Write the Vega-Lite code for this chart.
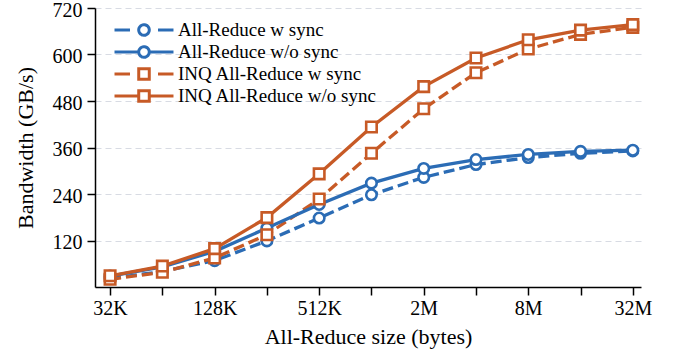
{
  "$schema": "https://vega.github.io/schema/vega-lite/v6.json",
  "width": 546,
  "height": 279,
  "autosize": {"type": "none"},
  "padding": {"left": 95, "top": 8, "right": 36, "bottom": 71},
  "background": "white",
  "config": {
    "view": {"stroke": null},
    "axis": {
      "domainColor": "black", "domainWidth": 1.5,
      "tickColor": "black", "tickWidth": 1.5, "tickSize": 8,
      "labelFont": "Liberation Serif", "labelFontSize": 20, "labelColor": "black",
      "titleFont": "Liberation Serif", "titleFontSize": 22, "titleFontWeight": "normal", "titleColor": "black",
      "gridColor": "#d8dbe3", "gridDash": [6, 4], "gridWidth": 1.2
    }
  },
  "data": {"values": [
    {"series": "All-Reduce w sync", "kb": 32, "bw": 22},
    {"series": "All-Reduce w sync", "kb": 64, "bw": 40},
    {"series": "All-Reduce w sync", "kb": 128, "bw": 68},
    {"series": "All-Reduce w sync", "kb": 256, "bw": 119},
    {"series": "All-Reduce w sync", "kb": 512, "bw": 178},
    {"series": "All-Reduce w sync", "kb": 1024, "bw": 238},
    {"series": "All-Reduce w sync", "kb": 2048, "bw": 283},
    {"series": "All-Reduce w sync", "kb": 4096, "bw": 316},
    {"series": "All-Reduce w sync", "kb": 8192, "bw": 334},
    {"series": "All-Reduce w sync", "kb": 16384, "bw": 345},
    {"series": "All-Reduce w sync", "kb": 32768, "bw": 351},
    {"series": "All-Reduce w/o sync", "kb": 32, "bw": 28},
    {"series": "All-Reduce w/o sync", "kb": 64, "bw": 52},
    {"series": "All-Reduce w/o sync", "kb": 128, "bw": 92},
    {"series": "All-Reduce w/o sync", "kb": 256, "bw": 152},
    {"series": "All-Reduce w/o sync", "kb": 512, "bw": 213},
    {"series": "All-Reduce w/o sync", "kb": 1024, "bw": 268},
    {"series": "All-Reduce w/o sync", "kb": 2048, "bw": 306},
    {"series": "All-Reduce w/o sync", "kb": 4096, "bw": 329},
    {"series": "All-Reduce w/o sync", "kb": 8192, "bw": 342},
    {"series": "All-Reduce w/o sync", "kb": 16384, "bw": 350},
    {"series": "All-Reduce w/o sync", "kb": 32768, "bw": 353},
    {"series": "INQ All-Reduce w sync", "kb": 32, "bw": 20},
    {"series": "INQ All-Reduce w sync", "kb": 64, "bw": 38},
    {"series": "INQ All-Reduce w sync", "kb": 128, "bw": 75},
    {"series": "INQ All-Reduce w sync", "kb": 256, "bw": 135},
    {"series": "INQ All-Reduce w sync", "kb": 512, "bw": 227},
    {"series": "INQ All-Reduce w sync", "kb": 1024, "bw": 345},
    {"series": "INQ All-Reduce w sync", "kb": 2048, "bw": 460},
    {"series": "INQ All-Reduce w sync", "kb": 4096, "bw": 553},
    {"series": "INQ All-Reduce w sync", "kb": 8192, "bw": 614},
    {"series": "INQ All-Reduce w sync", "kb": 16384, "bw": 652},
    {"series": "INQ All-Reduce w sync", "kb": 32768, "bw": 670},
    {"series": "INQ All-Reduce w/o sync", "kb": 32, "bw": 29},
    {"series": "INQ All-Reduce w/o sync", "kb": 64, "bw": 54},
    {"series": "INQ All-Reduce w/o sync", "kb": 128, "bw": 99},
    {"series": "INQ All-Reduce w/o sync", "kb": 256, "bw": 179},
    {"series": "INQ All-Reduce w/o sync", "kb": 512, "bw": 292},
    {"series": "INQ All-Reduce w/o sync", "kb": 1024, "bw": 413},
    {"series": "INQ All-Reduce w/o sync", "kb": 2048, "bw": 517},
    {"series": "INQ All-Reduce w/o sync", "kb": 4096, "bw": 591},
    {"series": "INQ All-Reduce w/o sync", "kb": 8192, "bw": 638},
    {"series": "INQ All-Reduce w/o sync", "kb": 16384, "bw": 663},
    {"series": "INQ All-Reduce w/o sync", "kb": 32768, "bw": 677}
  ]},
  "encoding": {
    "x": {
      "field": "kb", "type": "quantitative",
      "scale": {"type": "log", "base": 2, "domain": [26.2, 36530], "nice": false},
      "axis": {
        "title": "All-Reduce size (bytes)",
        "values": [32, 64, 128, 256, 512, 1024, 2048, 4096, 8192, 16384, 32768],
        "labelExpr": "indexof([32,128,512,2048,8192,32768], datum.value) >= 0 ? (datum.value >= 1024 ? (datum.value/1024) + 'M' : datum.value + 'K') : ''",
        "grid": false, "labelPadding": 3, "titlePadding": 8, "labelFlush": false, "labelOverlap": false
      }
    },
    "y": {
      "field": "bw", "type": "quantitative",
      "scale": {"domain": [0, 720], "nice": false},
      "axis": {
        "title": "Bandwidth (GB/s)",
        "values": [120, 240, 360, 480, 600, 720],
        "grid": true, "labelPadding": 5, "titlePadding": 15, "labelOffset": 2
      }
    },
    "stroke": {
      "field": "series", "type": "nominal",
      "scale": {
        "domain": ["All-Reduce w sync", "All-Reduce w/o sync", "INQ All-Reduce w sync", "INQ All-Reduce w/o sync"],
        "range": ["#2b6cb5", "#2b6cb5", "#c75a26", "#c75a26"]
      },
      "legend": {
        "orient": "none", "legendX": 39, "legendY": 12,
        "title": null,
        "symbolSize": 289, "symbolStrokeWidth": 2.5, "symbolFillColor": "white", "symbolOpacity": 1,
        "labelFont": "Liberation Serif", "labelFontSize": 19, "labelColor": "black", "labelLimit": 400,
        "rowPadding": -3.9, "labelOffset": 24,
        "encode": {
          "symbols": {
            "update": {
              "shape": {"signal": "datum.value === 'All-Reduce w sync' ? 'M-3.47,0H-1.65M1.65,0H3.47M-0.62,0A0.62,0.62,0,1,0,0.62,0A0.62,0.62,0,1,0,-0.62,0Z' : datum.value === 'All-Reduce w/o sync' ? 'M-3.47,0H-0.62M0.62,0H3.47M-0.62,0A0.62,0.62,0,1,0,0.62,0A0.62,0.62,0,1,0,-0.62,0Z' : datum.value === 'INQ All-Reduce w sync' ? 'M-3.47,0H-1.65M1.65,0H3.47M-0.62,-0.62H0.62V0.62H-0.62Z' : 'M-3.47,0H-0.62M0.62,0H3.47M-0.62,-0.62H0.62V0.62H-0.62Z'"},
              "fill": {"value": "white"},
              "fillOpacity": {"value": 1},
              "strokeDash": {"value": [1, 0]},
              "strokeWidth": {"value": 3},
              "opacity": {"value": 1}
            }
          }
        }
      }
    }
  },
  "layer": [
    {
      "transform": [{"filter": "indexof(datum.series, 'w sync') >= 0"}],
      "mark": {"type": "line", "strokeWidth": 3.3, "strokeDash": [11, 5]}
    },
    {
      "transform": [{"filter": "indexof(datum.series, 'w sync') < 0"}],
      "mark": {"type": "line", "strokeWidth": 3.3}
    },
    {
      "transform": [{"filter": "indexof(datum.series, 'INQ') < 0"}],
      "mark": {"type": "point", "shape": "circle", "filled": false, "fill": "white", "fillOpacity": 1, "opacity": 1, "strokeWidth": 2.6, "size": 110}
    },
    {
      "transform": [{"filter": "indexof(datum.series, 'INQ') >= 0"}],
      "mark": {"type": "point", "shape": "square", "filled": false, "fill": "white", "fillOpacity": 1, "opacity": 1, "strokeWidth": 2.6, "size": 110}
    }
  ]
}
